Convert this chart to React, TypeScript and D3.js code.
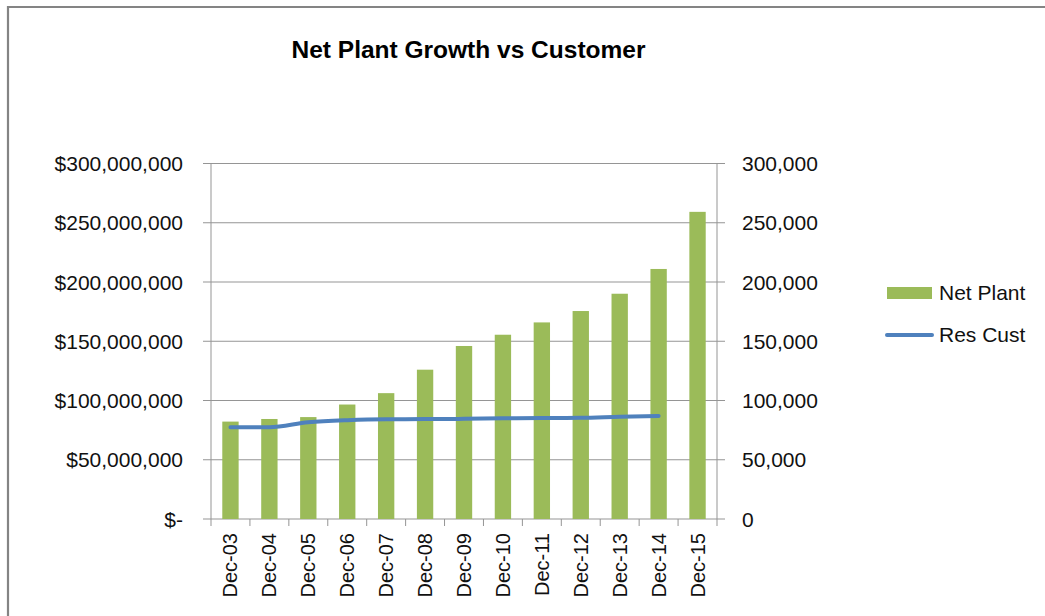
import React from "react";
import * as d3 from "d3";

const categories = ["Dec-03","Dec-04","Dec-05","Dec-06","Dec-07","Dec-08","Dec-09","Dec-10","Dec-11","Dec-12","Dec-13","Dec-14","Dec-15"];
const netPlant = [82200000, 84400000, 86000000, 96600000, 106200000, 126000000, 146000000, 155500000, 165900000, 175500000, 190100000, 211000000, 259200000];
const resCust: (number | null)[] = [77500, 77500, 81600, 83400, 84200, 84300, 84500, 85000, 85200, 85400, 86300, 87000, null];
const leftTicks = [0, 50000000, 100000000, 150000000, 200000000, 250000000, 300000000];
const rightTicks = [0, 50000, 100000, 150000, 200000, 250000, 300000];

const W = 1045, H = 616;
const plot = { left: 211, right: 717, top: 163.5, bottom: 519 };
const FONT = "'Liberation Sans', Arial, sans-serif";
const GREEN = "#9BBB59";
const BLUE = "#4F81BD";
const GRID = "#959595";

export default function App() {
  const x = d3.scaleBand<string>().domain(categories).range([plot.left, plot.right]).paddingInner(0.58).paddingOuter(0.29);
  const xb = d3.scaleLinear().domain([0, categories.length]).range([plot.left, plot.right]);
  const yL = d3.scaleLinear().domain([0, 300000000]).range([plot.bottom, plot.top]);
  const yR = d3.scaleLinear().domain([0, 300000]).range([plot.bottom, plot.top]);
  const center = (c: string) => (x(c) ?? 0) + x.bandwidth() / 2;

  const fmtL = (v: number) => (v === 0 ? "$-" : "$" + d3.format(",")(v));
  const fmtR = (v: number) => d3.format(",")(v);

  const lineGen = d3
    .line<number | null>()
    .defined((d) => d !== null)
    .x((_, i) => center(categories[i]))
    .y((d) => yR(d as number))
    .curve(d3.curveMonotoneX);

  return (
    <svg width={W} height={H} style={{ position: "absolute", left: 0, top: 0, background: "#fff" }} fontFamily={FONT}>
      <rect x={0} y={0} width={W} height={H} fill="#fff" />
      {/* outer frame */}
      <path d={`M8,${H + 5} L8,7 L${W + 5},7`} fill="none" stroke="#848484" strokeWidth={2.2} />
      <text x={468.5} y={58} textAnchor="middle" fontSize={24.5} fontWeight="bold" fill="#000">
        Net Plant Growth vs Customer
      </text>

      {/* gridlines */}
      {leftTicks.map((t) => (
        <line key={"g" + t} x1={plot.left - 8} x2={plot.right + 8} y1={yL(t)} y2={yL(t)} stroke={GRID} strokeWidth={1} />
      ))}
      {/* axes */}
      <line x1={plot.left} x2={plot.left} y1={plot.top} y2={plot.bottom} stroke={GRID} strokeWidth={1} />
      <line x1={plot.right} x2={plot.right} y1={plot.top} y2={plot.bottom} stroke={GRID} strokeWidth={1} />
      {d3.range(categories.length + 1).map((i) => (
        <line key={"xt" + i} x1={xb(i)} x2={xb(i)} y1={plot.bottom} y2={plot.bottom + 7} stroke={GRID} strokeWidth={1} />
      ))}

      {/* bars */}
      {netPlant.map((v, i) => (
        <rect key={"b" + i} x={x(categories[i])} y={yL(v)} width={x.bandwidth()} height={plot.bottom - yL(v)} fill={GREEN} />
      ))}

      {/* line */}
      <path d={lineGen(resCust) ?? ""} fill="none" stroke={BLUE} strokeWidth={4} strokeLinecap="round" strokeLinejoin="round" />

      {/* left labels */}
      {leftTicks.map((t) => (
        <text key={"l" + t} x={183} y={yL(t)} dy="0.36em" textAnchor="end" fontSize={21} fill="#111">
          {fmtL(t)}
        </text>
      ))}
      {/* right labels */}
      {rightTicks.map((t) => (
        <text key={"r" + t} x={742} y={yR(t)} dy="0.36em" textAnchor="start" fontSize={21} fill="#111">
          {fmtR(t)}
        </text>
      ))}
      {/* x labels */}
      {categories.map((c) => (
        <text key={"x" + c} transform={`translate(${center(c) + 7},533) rotate(-90)`} textAnchor="end" fontSize={20} fill="#111">
          {c}
        </text>
      ))}

      {/* legend */}
      <rect x={887} y={287} width={45} height={12} fill={GREEN} />
      <text x={939} y={300} fontSize={21} fill="#111">Net Plant</text>
      <line x1={887} x2={932} y1={335} y2={335} stroke={BLUE} strokeWidth={4} strokeLinecap="round" />
      <text x={939} y={342} fontSize={21} fill="#111">Res Cust</text>
    </svg>
  );
}
